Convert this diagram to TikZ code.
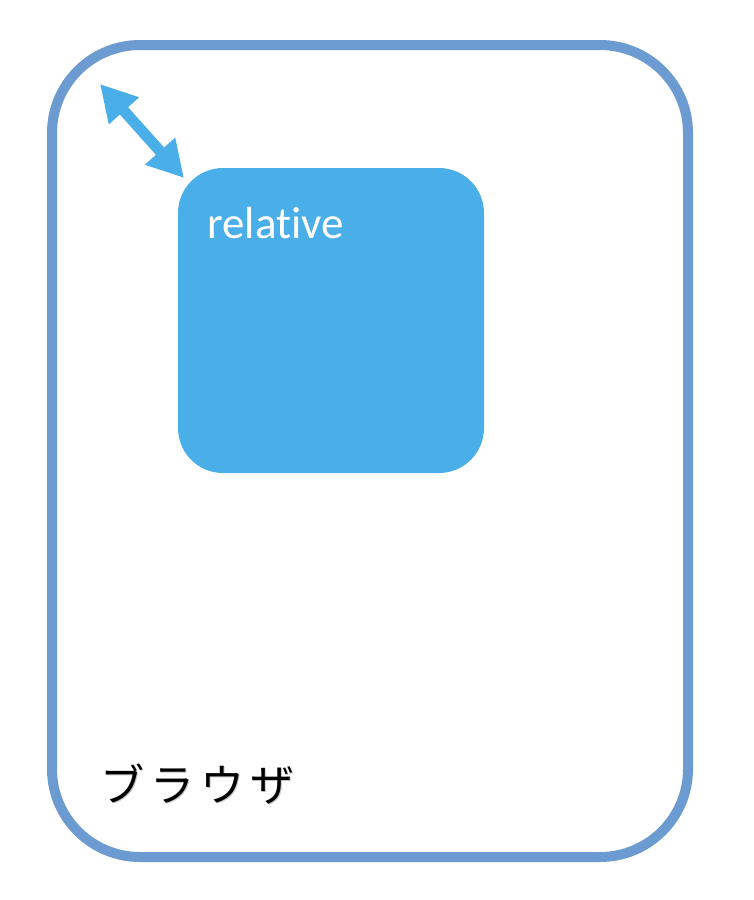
\documentclass[tikz,border=0pt]{standalone}
\usepackage{fontspec}
\setmainfont[Ligatures=NoCommon]{Carlito}
\newfontfamily\cjk{Noto Sans CJK JP}
\usetikzlibrary{arrows.meta}
\definecolor{outerblue}{HTML}{6B9BD1}
\definecolor{innerblue}{HTML}{4AAEE9}
\definecolor{shadowgray}{HTML}{C8C8C8}
\tikzset{
  browserbox/.style={draw=outerblue, line width=10pt, rounded corners=88pt},
  relbox/.style={fill=innerblue, draw=none, rounded corners=45pt},
  gaparrow/.style={draw=innerblue, line width=11pt, {Triangle[length=36pt,width=38pt]}-{Triangle[length=36pt,width=38pt]}},
  reltext/.style={text=white, font=\fontsize{45}{54}\selectfont, anchor=base west, inner sep=0pt},
  jptext/.style={font=\cjk\fontsize{44}{52}\selectfont, anchor=base west, inner sep=0pt}
}
\newcommand{\jpword}{ブ\hspace{6pt}ラ\hspace{6pt}ウ\hspace{6pt}ザ}
\begin{document}
\begin{tikzpicture}[x=1pt,y=-1pt]
\useasboundingbox (0,0) rectangle (754,900);
\draw[browserbox] (52,45) rectangle (688,857);
\fill[relbox] (178,168) rectangle (484,473);
\node[reltext] (rel) at (207,238) {relative};
\coordinate (a1) at (100,84);
\coordinate (a2) at (184,178);
\draw[gaparrow] (a1) -- (a2);
\node[jptext, text=shadowgray] (jpshadow) at (101.5,802.5) {\jpword};
\node[jptext] (jp) at (100,801) {\jpword};
\end{tikzpicture}
\end{document}
